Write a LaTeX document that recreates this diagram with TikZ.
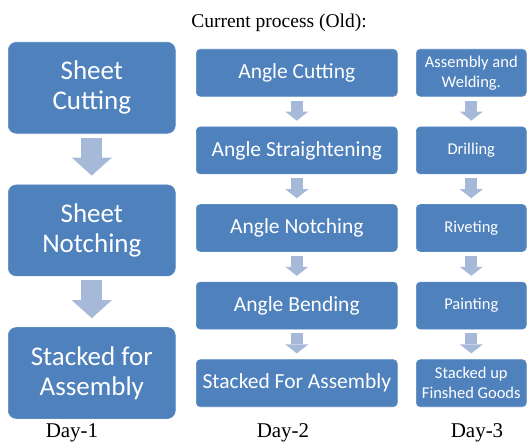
\documentclass[tikz,border=0pt]{standalone}
\usepackage{fontspec}
\setmainfont{Liberation Serif}
\newfontfamily\cardfont{Carlito}
\usetikzlibrary{arrows.meta,positioning}
\definecolor{stepblue}{HTML}{4F81BD}
\definecolor{stepedge}{HTML}{5B8BC3}
\definecolor{flowblue}{HTML}{A7B9D9}

\begin{document}
\begin{tikzpicture}[
  x=1pt, y=-1pt,
  stepcard/.style={
    fill=stepblue,
    draw=stepedge,
    line width=0.6pt,
    text=white,
    align=center,
    inner sep=0pt
  },
  bigcard/.style={stepcard, rounded corners=8pt, minimum width=167pt, minimum height=91pt,
    font=\cardfont\fontsize{27}{30}\selectfont},
  widecard/.style={stepcard, rounded corners=4pt, minimum width=201pt, minimum height=47pt,
    font=\cardfont\fontsize{21.5}{24}\selectfont},
  slimcard/.style={stepcard, rounded corners=4pt, minimum width=110pt, minimum height=47pt,
    font=\cardfont\fontsize{16.5}{20}\selectfont},
  bigflow/.style={draw=flowblue, line width=21pt,
    -{Triangle[length=18pt,width=40pt,line width=0pt]}, shorten <=4pt, shorten >=9pt},
  smallflow/.style={draw=flowblue, line width=12pt,
    -{Triangle[length=9pt,width=23pt,line width=0pt]}, shorten <=4pt, shorten >=6pt},
  daylabel/.style={anchor=base, font=\fontsize{21}{23}\selectfont}
]
  \useasboundingbox (0,0) rectangle (530,443);

  % Title
  \node[anchor=base, font=\fontsize{19.5}{22}\selectfont] (title) at (279,28) {Current process (Old):};

  % Day-1: sheet work
  \node[bigcard, anchor=north west] (sheetcut) at (8,42) {Sheet\\Cutting};
  \node[bigcard, below=51pt of sheetcut] (sheetnotch) {Sheet\\Notching};
  \node[bigcard, below=51pt of sheetnotch] (sheetstack) {Stacked for\\Assembly};

  % Day-2: angle work
  \node[widecard, anchor=north west] (anglecut) at (196,49) {Angle Cutting};
  \node[widecard, below=30pt of anglecut] (anglestraight) {Angle Straightening};
  \node[widecard, below=30pt of anglestraight] (anglenotch) {Angle Notching};
  \node[widecard, below=30pt of anglenotch] (anglebend) {Angle Bending};
  \node[widecard, below=30pt of anglebend] (anglestack) {Stacked For Assembly};

  % Day-3: assembly and finishing
  \node[slimcard, anchor=north west] (weld) at (416,49) {Assembly and\\Welding.};
  \node[slimcard, below=30pt of weld] (drill) {Drilling};
  \node[slimcard, below=30pt of drill] (rivet) {Riveting};
  \node[slimcard, below=30pt of rivet] (paint) {Painting};
  \node[slimcard, below=30pt of paint] (goods) {Stacked up\\Finshed Goods};

  % Flow arrows
  \draw[bigflow] (sheetcut.south) -- (sheetnotch.north);
  \draw[bigflow] (sheetnotch.south) -- (sheetstack.north);

  \draw[smallflow] (anglecut.south) -- (anglestraight.north);
  \draw[smallflow] (anglestraight.south) -- (anglenotch.north);
  \draw[smallflow] (anglenotch.south) -- (anglebend.north);
  \draw[smallflow] (anglebend.south) -- (anglestack.north);

  \draw[smallflow] (weld.south) -- (drill.north);
  \draw[smallflow] (drill.south) -- (rivet.north);
  \draw[smallflow] (rivet.south) -- (paint.north);
  \draw[smallflow] (paint.south) -- (goods.north);

  % Day labels
  \node[daylabel] (dayone) at (72,437) {Day-1};
  \node[daylabel] (daytwo) at (283,437) {Day-2};
  \node[daylabel] (daythree) at (477,437) {Day-3};

\end{tikzpicture}
\end{document}
